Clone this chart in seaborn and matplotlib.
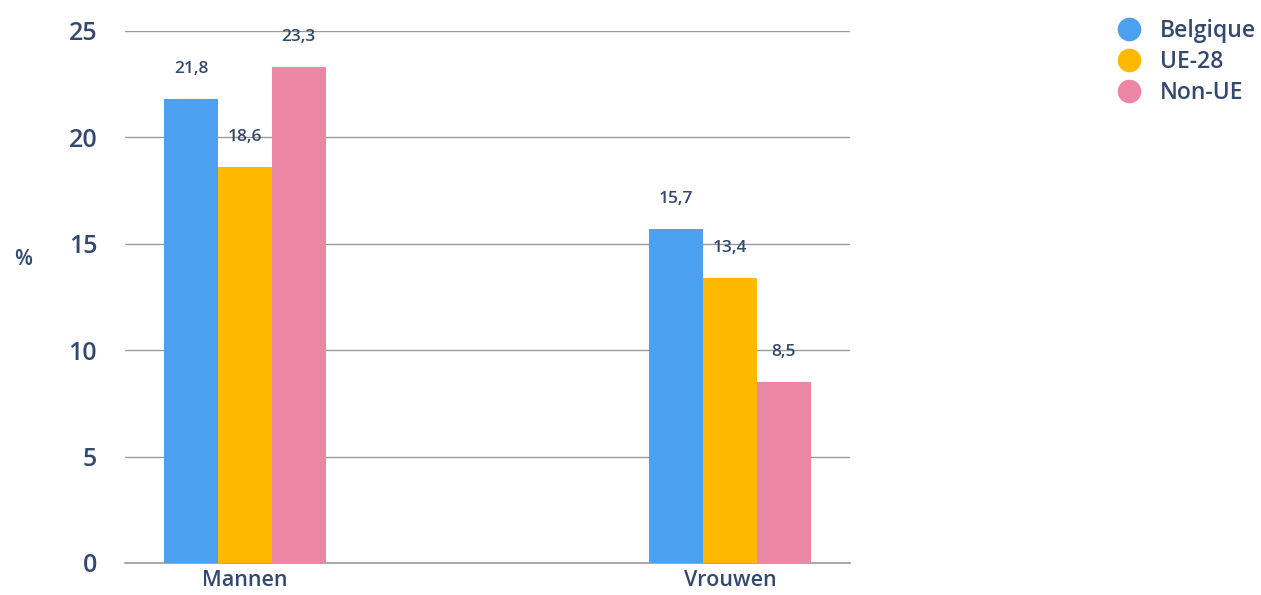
import matplotlib
matplotlib.use("Agg")
import matplotlib.pyplot as plt
import seaborn as sns
import pandas as pd
from matplotlib.lines import Line2D

categories = ["Mannen", "Vrouwen"]
series = ["Belgique", "UE-28", "Non-UE"]
belgique = [21.8, 15.7]
ue28 = [18.6, 13.4]
non_ue = [23.3, 8.5]
yticks = [0, 5, 10, 15, 20, 25]

colors = ["#4BA1EF", "#FFB800", "#E987A4"]
text_color = "#34496E"

rows = []
for s, vals in zip(series, [belgique, ue28, non_ue]):
    for c, v in zip(categories, vals):
        rows.append({"cat": c, "serie": s, "val": v})
df = pd.DataFrame(rows)

sns.set_theme(style="white")
plt.rcParams["font.family"] = ["Open Sans", "DejaVu Sans"]

fig = plt.figure(figsize=(12.61, 5.95), dpi=100)
ax = fig.add_axes([0.0991, 0.0538, 0.5749, 0.8941])

sns.barplot(data=df, x="cat", y="val", hue="serie", order=categories,
            hue_order=series, palette=colors, width=0.333, gap=0,
            saturation=1, ax=ax, legend=False, zorder=3)

for cont in ax.containers:
    for bar in cont:
        bar.set_edgecolor("none")
        bar.set_linewidth(0)
        h = bar.get_height()
        ax.annotate(f"{h:.1f}".replace(".", ","),
                    xy=(bar.get_x() + bar.get_width() / 2, h),
                    xytext=(0, 16), textcoords="offset points",
                    ha="center", va="bottom", fontsize=12.5,
                    color=text_color, fontweight="semibold")

ax.set_xlim(-0.247, 1.247)
ax.set_ylim(0, 25)
ax.set_yticks(yticks)
ax.set_yticklabels([str(t) for t in yticks])
ax.yaxis.grid(True, color="#9A9A9A", linewidth=1, zorder=0)
ax.set_axisbelow(True)
for sp in ["top", "right", "left"]:
    ax.spines[sp].set_visible(False)
ax.spines["bottom"].set_color("#9A9A9A")
ax.spines["bottom"].set_linewidth(1.2)
ax.tick_params(axis="y", length=0, pad=20, labelsize=18, labelcolor=text_color)
ax.tick_params(axis="x", length=0, pad=5, labelsize=15.5, labelcolor=text_color)
ax.set_xlabel("")
ax.set_ylabel("%", rotation=0, fontsize=15, color=text_color)
ax.yaxis.set_label_coords(-0.14, 0.55)
ax.yaxis.label.set_fontweight("semibold")
for lab in ax.get_xticklabels() + ax.get_yticklabels():
    lab.set_fontweight("semibold")

handles = [Line2D([0], [0], marker="o", linestyle="none", markersize=17,
                  markerfacecolor=c, markeredgecolor="none") for c in colors]
leg = fig.legend(handles, series, loc="upper left", bbox_to_anchor=(0.868, 1.003),
                 frameon=False, fontsize=16.5, handletextpad=0.75,
                 labelspacing=0.3, handlelength=1.2)
for t in leg.get_texts():
    t.set_color(text_color)
    t.set_fontweight("semibold")

fig.savefig("out.png", dpi=100)
